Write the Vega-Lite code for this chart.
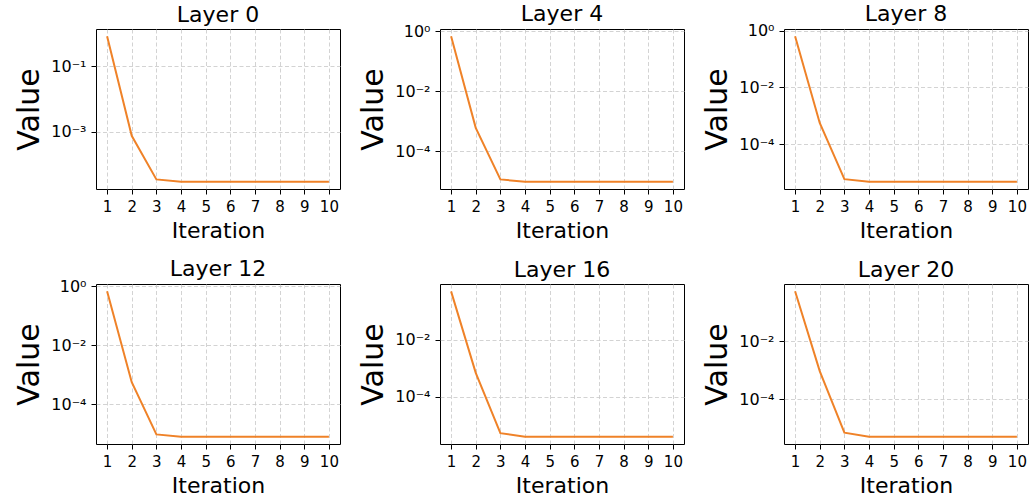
{
  "$schema": "https://vega.github.io/schema/vega-lite/v6.json",
  "background": "white",
  "padding": {"left": 14, "top": 2, "right": 2, "bottom": 2},
  "bounds": "flush",
  "columns": 3,
  "spacing": {"row": 95, "column": 100},
  "data": {"values": [
    {"layer": 0, "iteration": 1, "value": 0.81},
    {"layer": 0, "iteration": 2, "value": 0.00076},
    {"layer": 0, "iteration": 3, "value": 0.000036},
    {"layer": 0, "iteration": 4, "value": 0.0000305},
    {"layer": 0, "iteration": 5, "value": 0.0000305},
    {"layer": 0, "iteration": 6, "value": 0.0000305},
    {"layer": 0, "iteration": 7, "value": 0.0000305},
    {"layer": 0, "iteration": 8, "value": 0.0000305},
    {"layer": 0, "iteration": 9, "value": 0.0000305},
    {"layer": 0, "iteration": 10, "value": 0.0000305},
    {"layer": 4, "iteration": 1, "value": 0.68},
    {"layer": 4, "iteration": 2, "value": 0.0006},
    {"layer": 4, "iteration": 3, "value": 0.0000114},
    {"layer": 4, "iteration": 4, "value": 0.0000095},
    {"layer": 4, "iteration": 5, "value": 0.0000095},
    {"layer": 4, "iteration": 6, "value": 0.0000095},
    {"layer": 4, "iteration": 7, "value": 0.0000095},
    {"layer": 4, "iteration": 8, "value": 0.0000095},
    {"layer": 4, "iteration": 9, "value": 0.0000095},
    {"layer": 4, "iteration": 10, "value": 0.0000095},
    {"layer": 8, "iteration": 1, "value": 0.63},
    {"layer": 8, "iteration": 2, "value": 0.00056},
    {"layer": 8, "iteration": 3, "value": 0.0000059},
    {"layer": 8, "iteration": 4, "value": 0.0000048},
    {"layer": 8, "iteration": 5, "value": 0.0000048},
    {"layer": 8, "iteration": 6, "value": 0.0000048},
    {"layer": 8, "iteration": 7, "value": 0.0000048},
    {"layer": 8, "iteration": 8, "value": 0.0000048},
    {"layer": 8, "iteration": 9, "value": 0.0000048},
    {"layer": 8, "iteration": 10, "value": 0.0000048},
    {"layer": 12, "iteration": 1, "value": 0.67},
    {"layer": 12, "iteration": 2, "value": 0.00055},
    {"layer": 12, "iteration": 3, "value": 0.0000093},
    {"layer": 12, "iteration": 4, "value": 0.0000077},
    {"layer": 12, "iteration": 5, "value": 0.0000077},
    {"layer": 12, "iteration": 6, "value": 0.0000077},
    {"layer": 12, "iteration": 7, "value": 0.0000077},
    {"layer": 12, "iteration": 8, "value": 0.0000077},
    {"layer": 12, "iteration": 9, "value": 0.0000077},
    {"layer": 12, "iteration": 10, "value": 0.0000077},
    {"layer": 16, "iteration": 1, "value": 0.48},
    {"layer": 16, "iteration": 2, "value": 0.00069},
    {"layer": 16, "iteration": 3, "value": 0.0000055},
    {"layer": 16, "iteration": 4, "value": 0.0000041},
    {"layer": 16, "iteration": 5, "value": 0.0000041},
    {"layer": 16, "iteration": 6, "value": 0.0000041},
    {"layer": 16, "iteration": 7, "value": 0.0000041},
    {"layer": 16, "iteration": 8, "value": 0.0000041},
    {"layer": 16, "iteration": 9, "value": 0.0000041},
    {"layer": 16, "iteration": 10, "value": 0.0000041},
    {"layer": 20, "iteration": 1, "value": 0.51},
    {"layer": 20, "iteration": 2, "value": 0.00093},
    {"layer": 20, "iteration": 3, "value": 0.0000072},
    {"layer": 20, "iteration": 4, "value": 0.0000052},
    {"layer": 20, "iteration": 5, "value": 0.0000052},
    {"layer": 20, "iteration": 6, "value": 0.0000052},
    {"layer": 20, "iteration": 7, "value": 0.0000052},
    {"layer": 20, "iteration": 8, "value": 0.0000052},
    {"layer": 20, "iteration": 9, "value": 0.0000052},
    {"layer": 20, "iteration": 10, "value": 0.0000052}
  ]},
  "concat": [
    {
      "title": {"text": "Layer 0", "offset": 2.5}, "width": 244, "height": 160,
      "transform": [{"filter": "datum.layer == 0"}],
      "mark": {"type": "line", "color": "#ef8228", "strokeWidth": 2},
      "encoding": {
        "x": {"field": "iteration", "type": "quantitative", "scale": {"domain": [0.55, 10.45], "nice": false, "zero": false}, "axis": {"values": [1,2,3,4,5,6,7,8,9,10], "title": "Iteration"}},
        "y": {"field": "value", "type": "quantitative", "scale": {"type": "log", "domain": [0.0000184, 1.35], "nice": false}, "axis": {"values": [0.1, 0.001], "title": "Value"}}
      }
    },
    {
      "title": {"text": "Layer 4", "offset": -3}, "width": 244, "height": 160,
      "transform": [{"filter": "datum.layer == 4"}],
      "mark": {"type": "line", "color": "#ef8228", "strokeWidth": 2},
      "encoding": {
        "x": {"field": "iteration", "type": "quantitative", "scale": {"domain": [0.55, 10.45], "nice": false, "zero": false}, "axis": {"values": [1,2,3,4,5,6,7,8,9,10], "title": "Iteration"}},
        "y": {"field": "value", "type": "quantitative", "scale": {"type": "log", "domain": [0.00000546, 1.19], "nice": false}, "axis": {"values": [1, 0.01, 0.0001], "title": "Value"}}
      }
    },
    {
      "title": {"text": "Layer 8", "offset": -3}, "width": 244, "height": 160,
      "transform": [{"filter": "datum.layer == 8"}],
      "mark": {"type": "line", "color": "#ef8228", "strokeWidth": 2},
      "encoding": {
        "x": {"field": "iteration", "type": "quantitative", "scale": {"domain": [0.55, 10.45], "nice": false, "zero": false}, "axis": {"values": [1,2,3,4,5,6,7,8,9,10], "title": "Iteration"}},
        "y": {"field": "value", "type": "quantitative", "scale": {"type": "log", "domain": [0.00000265, 1.14], "nice": false}, "axis": {"values": [1, 0.01, 0.0001], "title": "Value"}}
      }
    },
    {
      "title": {"text": "Layer 12", "offset": -3}, "width": 244, "height": 160,
      "transform": [{"filter": "datum.layer == 12"}],
      "mark": {"type": "line", "color": "#ef8228", "strokeWidth": 2},
      "encoding": {
        "x": {"field": "iteration", "type": "quantitative", "scale": {"domain": [0.55, 10.45], "nice": false, "zero": false}, "axis": {"values": [1,2,3,4,5,6,7,8,9,10], "title": "Iteration"}},
        "y": {"field": "value", "type": "quantitative", "scale": {"type": "log", "domain": [0.0000044, 1.19], "nice": false}, "axis": {"values": [1, 0.01, 0.0001], "title": "Value"}}
      }
    },
    {
      "title": {"text": "Layer 16", "offset": 2.5}, "width": 244, "height": 160,
      "transform": [{"filter": "datum.layer == 16"}],
      "mark": {"type": "line", "color": "#ef8228", "strokeWidth": 2},
      "encoding": {
        "x": {"field": "iteration", "type": "quantitative", "scale": {"domain": [0.55, 10.45], "nice": false, "zero": false}, "axis": {"values": [1,2,3,4,5,6,7,8,9,10], "title": "Iteration"}},
        "y": {"field": "value", "type": "quantitative", "scale": {"type": "log", "domain": [0.0000023, 0.865], "nice": false}, "axis": {"values": [0.01, 0.0001], "title": "Value"}}
      }
    },
    {
      "title": {"text": "Layer 20", "offset": 2.5}, "width": 244, "height": 160,
      "transform": [{"filter": "datum.layer == 20"}],
      "mark": {"type": "line", "color": "#ef8228", "strokeWidth": 2},
      "encoding": {
        "x": {"field": "iteration", "type": "quantitative", "scale": {"domain": [0.55, 10.45], "nice": false, "zero": false}, "axis": {"values": [1,2,3,4,5,6,7,8,9,10], "title": "Iteration"}},
        "y": {"field": "value", "type": "quantitative", "scale": {"type": "log", "domain": [0.00000293, 0.91], "nice": false}, "axis": {"values": [0.01, 0.0001], "title": "Value"}}
      }
    }
  ],
  "config": {
    "font": "DejaVu Sans",
    "view": {"stroke": "black", "strokeWidth": 1},
    "axis": {
      "domain": false,
      "ticks": true,
      "tickColor": "black",
      "tickSize": 5,
      "tickWidth": 1,
      "labelFont": "DejaVu Sans",
      "labelFontSize": 15,
      "labelColor": "black",
      "labelPadding": 5,
      "labelFlush": false,
      "labelOverlap": false,
      "titleFont": "DejaVu Sans",
      "titleFontWeight": "normal",
      "titleColor": "black",
      "grid": true,
      "gridColor": "#c8c8c8",
      "gridDash": [4, 2.5],
      "gridWidth": 0.8
    },
    "axisX": {"titleFontSize": 22, "titlePadding": 6},
    "axisY": {
      "titleFontSize": 30,
      "titlePadding": 6,
      "labelFontSize": 16,
      "labelExpr": "'10' + (round(log(datum.value)/LN10) == 0 ? '⁰' : round(log(datum.value)/LN10) == -1 ? '⁻¹' : round(log(datum.value)/LN10) == -2 ? '⁻²' : round(log(datum.value)/LN10) == -3 ? '⁻³' : '⁻⁴')"
    },
    "title": {"font": "DejaVu Sans", "fontSize": 22, "fontWeight": "normal", "color": "black", "frame": "group"}
  }
}
